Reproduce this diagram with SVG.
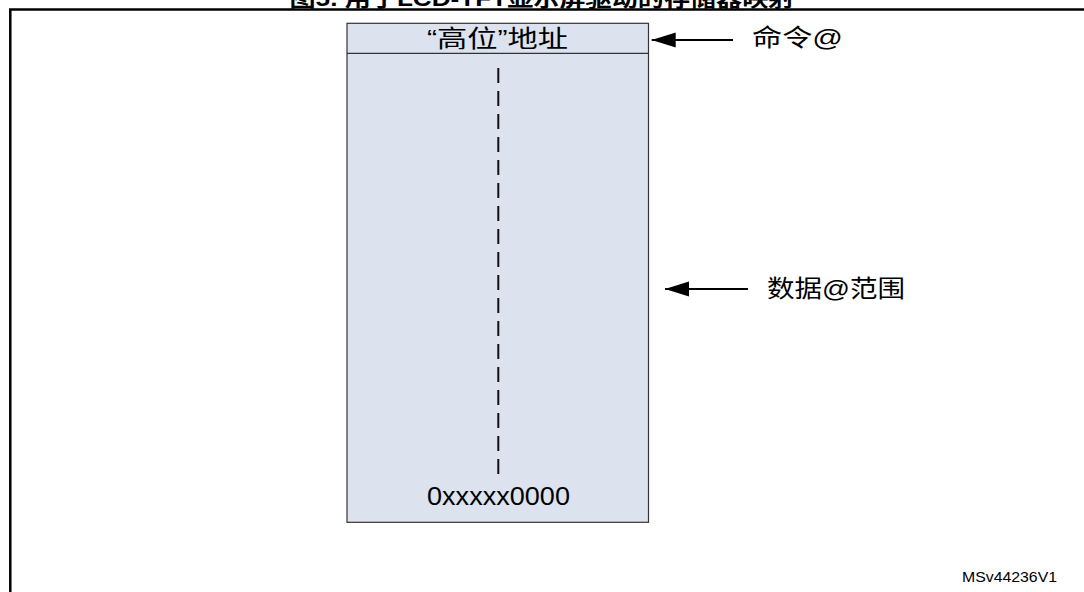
<svg xmlns="http://www.w3.org/2000/svg" width="1084" height="592" viewBox="0 0 1084 592">
<style>
.t{font-family:"Liberation Sans","Noto Sans CJK SC",sans-serif;fill:#000}
.box{fill:#dce3ef;stroke:#333;stroke-width:1.2}
.conn{stroke:#000;stroke-width:1.8;fill:none}
</style>
<defs>
<marker id="ah" markerUnits="userSpaceOnUse" markerWidth="26" markerHeight="16" refX="24" refY="7.5" orient="auto">
<path d="M0,0 L24,7.5 L0,15 Z" fill="#000"/>
</marker>
</defs>
<rect width="1084" height="592" fill="#fff"/>
<text class="t" x="542" y="6" font-size="22" font-weight="bold" text-anchor="middle" textLength="505" lengthAdjust="spacingAndGlyphs">图5. 用于LCD-TFT显示屏驱动的存储器映射</text>
<path d="M10.3,592 V9.5 H1084" fill="none" stroke="#000" stroke-width="2.5"/>
<g id="memory">
<rect class="box" x="347" y="23.3" width="301.5" height="499"/>
<line x1="347" y1="53.3" x2="648.5" y2="53.3" stroke="#333" stroke-width="1.2"/>
<text class="t" x="427" y="47" font-size="24" textLength="141" lengthAdjust="spacingAndGlyphs">“高位”地址</text>
<line x1="498.3" y1="68" x2="498.3" y2="475" stroke="#111" stroke-width="2" stroke-dasharray="15 8"/>
<text class="t" x="427" y="505" font-size="26" textLength="143" lengthAdjust="spacingAndGlyphs">0xxxxx0000</text>
</g>
<g id="cmd-label">
<text class="t" x="752" y="46" font-size="24" textLength="91" lengthAdjust="spacingAndGlyphs">命令@</text>
</g>
<g id="data-label">
<text class="t" x="767" y="297" font-size="24" textLength="138" lengthAdjust="spacingAndGlyphs">数据@范围</text>
</g>
<g id="ref">
<text class="t" x="962" y="582" font-size="15" textLength="95" lengthAdjust="spacingAndGlyphs">MSv44236V1</text>
</g>
<g id="connectors">
<line class="conn" x1="733" y1="40" x2="651.7" y2="40" marker-end="url(#ah)"/>
<line class="conn" x1="748" y1="289" x2="665" y2="289" marker-end="url(#ah)"/>
</g>
</svg>
